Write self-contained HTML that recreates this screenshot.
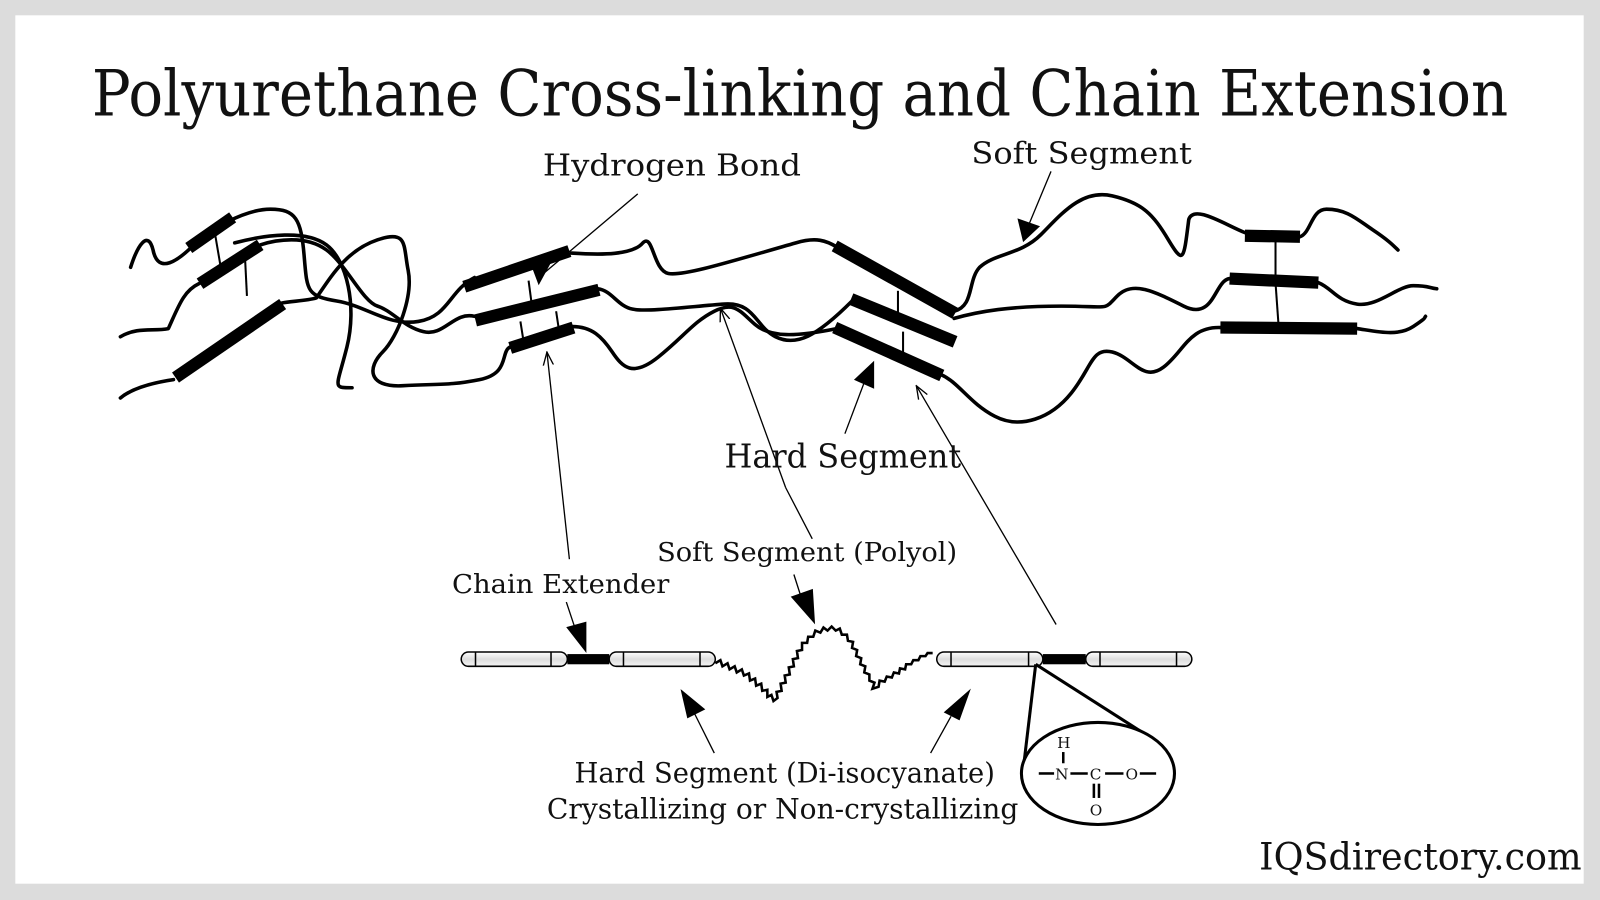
<!DOCTYPE html>
<html><head><meta charset="utf-8"><style>
html,body{margin:0;padding:0;background:#dcdcdc;}
svg{display:block}
text{font-family:"DejaVu Serif","Liberation Serif",serif;fill:#111}
</style></head><body>
<svg width="1600" height="900" viewBox="0 0 1568 882" preserveAspectRatio="none" xmlns="http://www.w3.org/2000/svg">
<defs>
<marker id="oa" markerWidth="14" markerHeight="14" refX="13" refY="7" orient="auto" markerUnits="userSpaceOnUse" viewBox="0 0 14 14"><path d="M0,2 L13,7 L0,12" fill="none" stroke="#000" stroke-width="1.3"/></marker>
<linearGradient id="cap" x1="0" y1="0" x2="0" y2="1"><stop offset="0" stop-color="#fff"/><stop offset="0.5" stop-color="#ddd"/><stop offset="1" stop-color="#f4f4f4"/></linearGradient>
</defs>
<rect x="0" y="0" width="1568" height="882" fill="#dcdcdc"/>
<rect x="15" y="15" width="1537" height="851" fill="#fff"/>
<text x="90" y="113" font-size="62" textLength="1388" lengthAdjust="spacingAndGlyphs">Polyurethane Cross-linking and Chain Extension</text>

<g fill="none" stroke="#000" stroke-width="3.5" stroke-linecap="round" stroke-linejoin="round">
<path d="M128,262 C135,240 145,225 150,245 C155,270 175,255 190,240 S240,205 265,205 S295,215 298,250 S300,290 330,295 S380,320 410,315 S440,285 465,272"/>
<path d="M560,248 C590,250 620,250 630,238 C640,228 640,265 655,268 S720,255 780,238 C800,232 810,236 820,242"/>
<path d="M935,305 C955,300 948,275 960,262 C975,248 1000,250 1020,230 S1060,185 1090,192 S1130,210 1145,235 S1160,255 1165,215 C1170,200 1200,220 1220,228"/>
<path d="M1274,232 C1285,228 1285,205 1300,205 C1320,205 1330,215 1345,225 S1365,240 1370,245"/>
<path d="M118,330 C135,320 150,325 165,322 C175,300 180,285 195,278"/>
<path d="M255,240 C270,235 300,230 320,245 S355,295 370,300 S395,320 415,325 S445,305 465,310"/>
<path d="M586,283 C600,285 605,300 620,303 S680,300 710,298 S740,320 760,330 S800,330 835,295"/>
<path d="M935,312 C960,305 990,300 1040,300 S1080,305 1095,290 S1130,285 1160,300 S1190,275 1205,273"/>
<path d="M1292,277 C1305,282 1310,295 1330,298 S1370,280 1385,280 S1400,282 1408,283"/>
<path d="M118,390 C130,380 150,375 170,372"/>
<path d="M276,297 C285,295 300,295 310,292 C325,270 340,245 370,235 S395,240 400,265 S390,330 375,345 S360,380 395,378 S440,378 470,372 S490,345 500,340"/>
<path d="M230,238 C260,230 300,225 320,240 S350,300 340,340 S325,380 345,380"/>
<path d="M561,320 C580,320 590,330 600,345 S620,370 645,350 S680,315 700,305 S725,305 740,318 S780,330 820,322"/>
<path d="M922,367 C940,375 950,395 975,408 S1030,410 1050,385 S1070,340 1090,345 S1120,375 1140,360 S1165,320 1196,321"/>
<path d="M1330,322 C1350,325 1370,330 1385,320 S1395,312 1397,310"/>
</g>
<g stroke="#000" stroke-width="12" stroke-linecap="butt">
<line x1="185" y1="243" x2="228" y2="213"/>
<line x1="196" y1="278" x2="255" y2="240"/>
<line x1="172" y1="370" x2="277" y2="298"/>
<line x1="455" y1="281" x2="558" y2="246"/>
<line x1="466" y1="314" x2="587" y2="284"/>
<line x1="500" y1="341" x2="562" y2="321"/>
<line x1="818" y1="241" x2="936" y2="307"/>
<line x1="834" y1="293" x2="936" y2="335"/>
<line x1="818" y1="321" x2="923" y2="368"/>
<line x1="1220" y1="231" x2="1274" y2="232"/>
<line x1="1205" y1="273" x2="1292" y2="277"/>
<line x1="1196" y1="321" x2="1330" y2="322"/>
</g>
<g stroke="#000" stroke-width="2" fill="none">
<line x1="210" y1="225" x2="216" y2="260"/><line x1="240" y1="250" x2="242" y2="290"/>
<line x1="518" y1="275" x2="522" y2="305"/><line x1="510" y1="315" x2="513" y2="334"/><line x1="545" y1="305" x2="548" y2="325"/>
<line x1="880" y1="285" x2="880" y2="315"/><line x1="885" y1="325" x2="885" y2="345"/>
<line x1="1250" y1="232" x2="1250" y2="273"/><line x1="1250" y1="277" x2="1253" y2="319"/>
</g>
<g stroke="#000" stroke-width="1.3" fill="none">
<line x1="625" y1="190" x2="528" y2="272"/>
<path d="M522,262 L540,256 L528,278 z" fill="#000"/>
<line x1="1030" y1="168" x2="1005" y2="228"/>
<path d="M998,215 L1018,222 L1003,236 z" fill="#000"/>
<line x1="828" y1="425" x2="848" y2="372"/>
<path d="M838,372 L856,355 L856,380 z" fill="#000"/>
<line x1="1035" y1="612" x2="898" y2="378" marker-end="url(#oa)"/>
<line x1="770" y1="478" x2="706" y2="302" marker-end="url(#oa)"/>
<line x1="770" y1="478" x2="796" y2="528"/>
<line x1="558" y1="548" x2="536" y2="345" marker-end="url(#oa)"/>
<line x1="555" y1="590" x2="565" y2="620"/>
<path d="M556,615 L574,610 L574,638 z" fill="#000"/>
<line x1="778" y1="563" x2="786" y2="588"/>
<path d="M776,585 L796,578 L798,610 z" fill="#000"/>
<line x1="700" y1="738" x2="680" y2="698"/>
<path d="M668,677 L690,695 L674,703 z" fill="#000"/>
<line x1="912" y1="738" x2="932" y2="702"/>
<path d="M950,677 L940,705 L926,698 z" fill="#000"/>
</g>
<text x="532" y="172" font-size="29" textLength="253" lengthAdjust="spacingAndGlyphs">Hydrogen Bond</text>
<text x="952" y="160" font-size="29" textLength="216" lengthAdjust="spacingAndGlyphs">Soft Segment</text>
<text x="710" y="458" font-size="32" textLength="232" lengthAdjust="spacingAndGlyphs">Hard Segment</text>
<text x="644" y="550" font-size="26" textLength="294" lengthAdjust="spacingAndGlyphs">Soft Segment (Polyol)</text>
<text x="443" y="581" font-size="26" textLength="213" lengthAdjust="spacingAndGlyphs">Chain Extender</text>
<text x="563" y="767" font-size="27" textLength="412" lengthAdjust="spacingAndGlyphs">Hard Segment (Di-isocyanate)</text>
<text x="536" y="802" font-size="27" textLength="462" lengthAdjust="spacingAndGlyphs">Crystallizing or Non-crystallizing</text>
<text x="1234" y="852" font-size="37" textLength="316" lengthAdjust="spacingAndGlyphs">IQSdirectory.com</text>

<g stroke="#000" stroke-width="1.5" fill="url(#cap)">
<rect x="452" y="639" width="104" height="14" rx="7"/>
<rect x="597" y="639" width="104" height="14" rx="7"/>
<rect x="918" y="639" width="104" height="14" rx="7"/>
<rect x="1064" y="639" width="104" height="14" rx="7"/>
<line x1="466" y1="639" x2="466" y2="653"/><line x1="540" y1="639" x2="540" y2="653"/>
<line x1="611" y1="639" x2="611" y2="653"/><line x1="686" y1="639" x2="686" y2="653"/>
<line x1="932" y1="639" x2="932" y2="653"/><line x1="1008" y1="639" x2="1008" y2="653"/>
<line x1="1078" y1="639" x2="1078" y2="653"/><line x1="1153" y1="639" x2="1153" y2="653"/>
</g>
<rect x="556" y="641" width="41" height="10" fill="#000"/>
<rect x="1022" y="641" width="42" height="10" fill="#000"/>
<path d="M701,650 l5,-3 l2,6 l5,-3 l2,6 l5,-3 l2,6 l5,-3 l2,6 l5,-2 l1,7 l5,-2 l1,7 l5,-2 l1,7 l5,-1 l0,7 l4,-2 l2,6 l4,-3 l-1,-6 l5,-1 l-1,-7 l5,-1 l-1,-7 l5,-1 l-1,-7 l5,-1 l-1,-7 l5,-1 l-1,-7 l5,-1 l0,-7 l5,0 l1,-6 l5,0 l2,-6 l5,2 l3,-5 l4,3 l4,-4 l4,4 l4,-2 l2,6 l5,0 l1,6 l5,1 l-1,6 l5,2 l-1,6 l5,2 l-1,6 l5,2 l-1,6 l5,2 l0,6 l5,2 l-2,6 l6,-2 l1,-6 l5,1 l2,-5 l5,1 l2,-5 l5,1 l1,-5 l5,1 l1,-5 l5,0 l2,-4 l5,0 l2,-4 l5,0 l2,-3 l5,0" fill="none" stroke="#000" stroke-width="2.5"/>
<g stroke="#000" stroke-width="3" fill="none">
<line x1="1015" y1="651" x2="1003" y2="752"/>
<line x1="1015" y1="651" x2="1120" y2="718"/>
<ellipse cx="1076" cy="758" rx="75" ry="50" fill="#fff"/>
</g>
<g font-size="15">
<text x="1036" y="733">H</text>
<text x="1034" y="764">N</text>
<text x="1068" y="764">C</text>
<text x="1103" y="764">O</text>
<text x="1068" y="799">O</text>
</g>
<g stroke="#000" stroke-width="2.5">
<line x1="1042" y1="737" x2="1042" y2="748"/>
<line x1="1018" y1="758" x2="1033" y2="758"/>
<line x1="1049" y1="758" x2="1066" y2="758"/>
<line x1="1083" y1="758" x2="1101" y2="758"/>
<line x1="1117" y1="758" x2="1133" y2="758"/>
<line x1="1072" y1="768" x2="1072" y2="782"/><line x1="1077" y1="768" x2="1077" y2="782"/>
</g>
</svg>
</body></html>
